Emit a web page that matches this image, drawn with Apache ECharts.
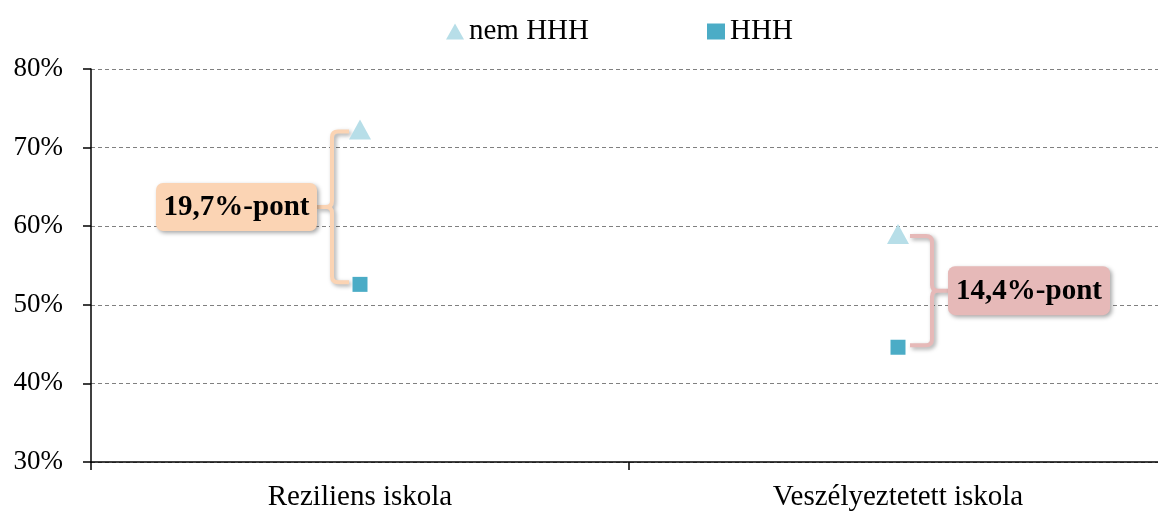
<!DOCTYPE html>
<html>
<head>
<meta charset="utf-8">
<script src="https://cdn.jsdelivr.net/npm/echarts@6/dist/echarts.min.js"></script>
<style>
html,body{margin:0;padding:0;background:#fff;overflow:hidden;width:1158px;height:512px;}
#chart{width:1167px;height:512px;}
</style>
</head>
<body>
<div id="chart"></div>
<script>
// ---- data ----
var categories = ['Reziliens iskola', 'Veszélyeztetett iskola'];
var nemHHH = [72.3, 59.0];
var HHH = [52.6, 44.6];
var gapLabels = ['19,7%-pont', '14,4%-pont'];
var gapSides = [-1, 1]; // -1: annotation on left, 1: on right
var yTicks = { min: 30, max: 80, interval: 10 };

var FONT = '"Liberation Serif", "Times New Roman", serif';
var gapColors = ['#FBD4B4', '#E6B9B8'];

var gapData = categories.map(function (c, i) {
  return [i, nemHHH[i], HHH[i], gapSides[i]];
});

function renderGap(params, api) {
  var idx = params.dataIndex;
  var top = api.coord([api.value(0), api.value(1)]);
  var bot = api.coord([api.value(0), api.value(2)]);
  var side = api.value(3);
  var cx = top[0];
  var yt = top[1] + 2, yb = bot[1] - 2, ym = (yt + yb) / 2;
  var r = 6;
  var xv, ex, stubEnd, boxX, boxW, boxH;
  if (side < 0) {
    xv = cx - 28; ex = cx - 11; stubEnd = cx - 43; boxW = 161; boxH = 48; boxX = stubEnd - boxW;
  } else {
    xv = cx + 34; ex = cx + 12; stubEnd = cx + 50; boxW = 162; boxH = 49; boxX = stubEnd;
  }
  var d = -side;
  var p = 'M' + ex + ',' + yt +
    ' L' + (xv + d * r) + ',' + yt +
    ' Q' + xv + ',' + yt + ' ' + xv + ',' + (yt + r) +
    ' L' + xv + ',' + (ym - r) +
    ' Q' + xv + ',' + ym + ' ' + (xv - d * r) + ',' + ym +
    ' Q' + xv + ',' + ym + ' ' + xv + ',' + (ym + r) +
    ' L' + xv + ',' + (yb - r) +
    ' Q' + xv + ',' + yb + ' ' + (xv + d * r) + ',' + yb +
    ' L' + ex + ',' + yb +
    ' M' + (xv - d * r) + ',' + ym + ' L' + stubEnd + ',' + ym;
  var col = gapColors[idx];
  var shadow = { shadowBlur: 4, shadowOffsetX: 2, shadowOffsetY: 2, shadowColor: 'rgba(0,0,0,0.35)' };
  return {
    type: 'group',
    children: [
      {
        type: 'path',
        shape: { pathData: p },
        style: Object.assign({ fill: null, stroke: col, lineWidth: 4 }, shadow)
      },
      {
        type: 'rect',
        shape: { x: boxX, y: ym - boxH / 2, width: boxW, height: boxH, r: 7 },
        style: Object.assign({ fill: col }, shadow)
      },
      {
        type: 'text',
        style: {
          text: gapLabels[idx],
          x: boxX + boxW / 2,
          y: ym + 1,
          align: 'center',
          verticalAlign: 'middle',
          fill: '#000',
          font: 'bold 29px ' + FONT
        }
      }
    ]
  };
}

var chart = echarts.init(document.getElementById('chart'));
chart.setOption({
  animation: false,
  backgroundColor: '#fff',
  textStyle: { fontFamily: FONT },
  legend: {
    data: [
      { name: 'nem HHH', icon: 'triangle', itemStyle: { color: '#B7DEE8' } },
      { name: 'HHH', icon: 'rect', itemStyle: { color: '#4BACC6' } }
    ],
    left: 441,
    top: 12,
    itemWidth: 18,
    itemHeight: 16,
    itemGap: 118,
    textStyle: { fontFamily: FONT, fontSize: 29, color: '#000' }
  },
  grid: { left: 91, right: 0, top: 69, bottom: 46, containLabel: false },
  xAxis: {
    type: 'category',
    data: categories,
    boundaryGap: true,
    axisLine: { lineStyle: { color: '#000', width: 1.5 } },
    axisTick: { show: true, length: 8, lineStyle: { color: '#000', width: 1.5 } },
    axisLabel: { fontFamily: FONT, fontSize: 29, color: '#000', margin: 21 },
    splitLine: { show: false }
  },
  yAxis: {
    type: 'value',
    min: yTicks.min,
    max: yTicks.max,
    interval: yTicks.interval,
    axisLine: { show: true, lineStyle: { color: '#000', width: 1.5 } },
    axisTick: { show: true, length: 8, lineStyle: { color: '#000', width: 1.5 } },
    axisLabel: { formatter: '{value}%', fontFamily: FONT, fontSize: 27, color: '#000', margin: 28 },
    splitLine: { show: true, lineStyle: { color: '#808080', type: [4, 3], width: 1 } }
  },
  series: [
    {
      name: 'gap',
      type: 'custom',
      renderItem: renderGap,
      data: gapData,
      encode: { x: 0, y: [1, 2] },
      z: 1,
      silent: true
    },
    {
      name: 'nem HHH',
      type: 'scatter',
      symbol: 'triangle',
      symbolSize: [22, 20],
      itemStyle: { color: '#B7DEE8', opacity: 1 },
      data: nemHHH,
      z: 3
    },
    {
      name: 'HHH',
      type: 'scatter',
      symbol: 'rect',
      symbolSize: 15,
      itemStyle: { color: '#4BACC6', opacity: 1 },
      data: HHH,
      z: 3
    }
  ]
});
</script>
</body>
</html>
